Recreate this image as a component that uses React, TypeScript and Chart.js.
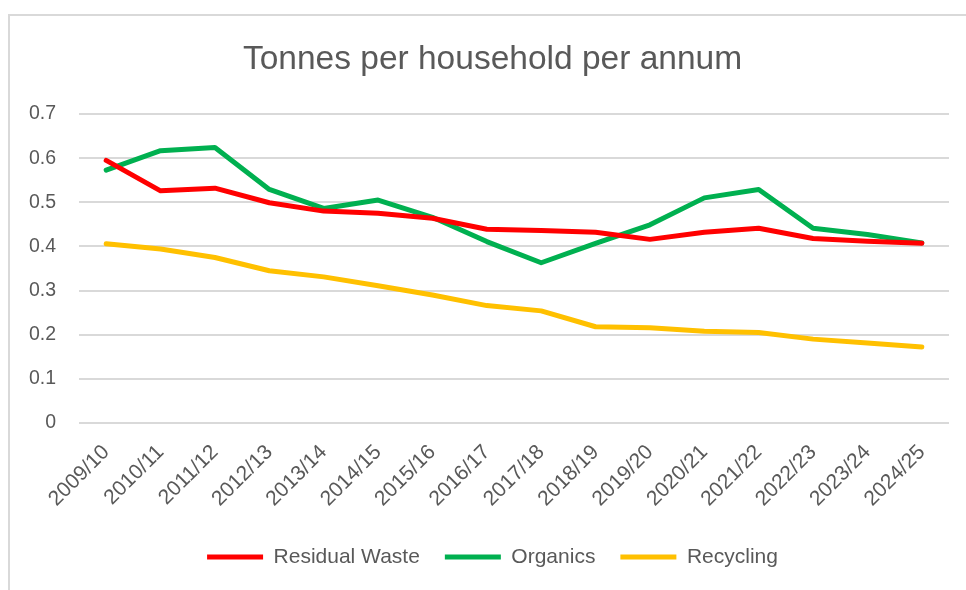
import React, { useEffect, useRef } from 'react';
import { Chart, registerables } from 'chart.js';

Chart.register(...registerables);

const categories = [
  '2009/10', '2010/11', '2011/12', '2012/13', '2013/14', '2014/15', '2015/16', '2016/17',
  '2017/18', '2018/19', '2019/20', '2020/21', '2021/22', '2022/23', '2023/24', '2024/25',
];

const residualWaste = [0.595, 0.526, 0.532, 0.499, 0.480, 0.475, 0.464, 0.439, 0.436, 0.432, 0.416, 0.432, 0.441, 0.418, 0.412, 0.407];
const organics = [0.573, 0.617, 0.624, 0.529, 0.486, 0.505, 0.466, 0.411, 0.363, 0.407, 0.449, 0.510, 0.529, 0.441, 0.427, 0.408];
const recycling = [0.406, 0.394, 0.375, 0.345, 0.331, 0.311, 0.290, 0.266, 0.254, 0.218, 0.216, 0.208, 0.205, 0.190, 0.181, 0.172];

const yMin = 0;
const yMax = 0.7;
const yStep = 0.1;

const titleText = 'Tonnes per household per annum';
const seriesNames = ['Residual Waste', 'Organics', 'Recycling'];
const seriesColors = ['#FF0000', '#00B050', '#FFC000'];

const FONT = "'Liberation Sans', Arial, sans-serif";
const TEXT = '#595959';

export default function App() {
  const canvasRef = useRef<HTMLCanvasElement | null>(null);

  useEffect(() => {
    const canvas = canvasRef.current;
    if (!canvas) return;
    const seriesData = [residualWaste, organics, recycling];
    const chart = new Chart(canvas, {
      type: 'line',
      data: {
        labels: categories,
        datasets: seriesNames.map((name, i) => ({
          label: name,
          data: seriesData[i],
          borderColor: seriesColors[i],
          backgroundColor: seriesColors[i],
          borderWidth: 5,
          borderCapStyle: 'round' as const,
          borderJoinStyle: 'round' as const,
          pointRadius: 0,
          pointHoverRadius: 0,
          tension: 0,
          fill: false,
          yAxisID: 'y',
        })),
      },
      options: {
        responsive: false,
        animation: false,
        devicePixelRatio: 1,
        layout: { padding: { left: 9, right: 0, top: 0, bottom: 12.5 } },
        plugins: {
          title: {
            display: true,
            text: titleText,
            color: TEXT,
            font: { family: FONT, size: 33.5, weight: 'normal', lineHeight: 1.2 },
            padding: { top: 23.4, bottom: 34.4 },
          },
          legend: {
            display: true,
            position: 'bottom',
            labels: {
              usePointStyle: true,
              pointStyle: 'line',
              pointStyleWidth: 56,
              color: TEXT,
              font: { family: FONT, size: 21 },
              padding: 25,
            },
          },
          tooltip: { enabled: false },
        },
        scales: {
          x: {
            type: 'category',
            offset: true,
            grid: { display: false, drawTicks: false },
            border: { display: false },
            ticks: {
              color: TEXT,
              font: { family: FONT, size: 21 },
              minRotation: 45,
              maxRotation: 45,
              autoSkip: false,
              padding: 17,
            },
            afterFit: (scale: any) => {
              scale.height = 98.5;
            },
          },
          y: {
            type: 'linear',
            position: 'left',
            min: yMin,
            max: yMax,
            grid: { color: '#d9d9d9', lineWidth: 2, drawTicks: false },
            border: { display: false },
            ticks: {
              stepSize: yStep,
              color: TEXT,
              font: { family: FONT, size: 19.5 },
              padding: 23,
              callback: (v: any) => (Number(v) === 0 ? '0' : Number(v).toFixed(1)),
            },
            afterFit: (scale: any) => {
              scale.width = 60;
            },
          },
          yRightSpace: {
            type: 'linear',
            position: 'right',
            display: true,
            min: yMin,
            max: yMax,
            grid: { display: false, drawTicks: false },
            border: { display: false },
            ticks: { display: false },
            afterFit: (scale: any) => {
              scale.width = 17;
            },
          },
        },
      },
    });
    return () => chart.destroy();
  }, []);

  return (
    <div
      style={{
        position: 'fixed',
        left: 8,
        top: 14,
        width: 958,
        height: 576,
        boxSizing: 'border-box',
        borderTop: '2px solid #d9d9d9',
        borderLeft: '2px solid #d9d9d9',
        background: '#ffffff',
      }}
    >
      <canvas ref={canvasRef} width={956} height={574} style={{ display: 'block', width: 956, height: 574 }} />
    </div>
  );
}
